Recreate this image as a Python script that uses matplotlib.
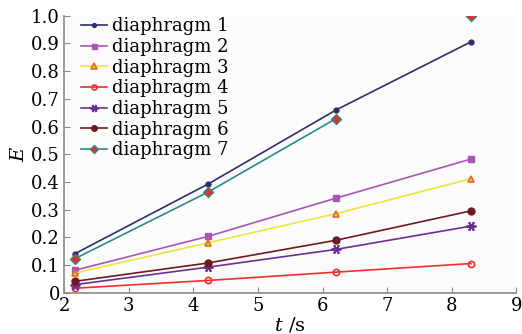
import matplotlib.pyplot as plt

# measurement times (s) and efficiency per diaphragm
t = [2.17, 4.23, 6.21, 8.30]
labels = ["diaphragm 1", "diaphragm 2", "diaphragm 3", "diaphragm 4",
          "diaphragm 5", "diaphragm 6", "diaphragm 7"]
e1 = [0.142, 0.393, 0.660, 0.906]
e2 = [0.082, 0.204, 0.342, 0.483]
e3 = [0.072, 0.181, 0.286, 0.412]
e4 = [0.017, 0.045, 0.075, 0.106]
e5 = [0.030, 0.093, 0.157, 0.241]
e6 = [0.042, 0.108, 0.190, 0.296]
e7 = [0.124, 0.364, 0.629, 1.000]

plt.rcParams["font.family"] = "DejaVu Serif"
plt.rcParams["mathtext.fontset"] = "dejavuserif"

fig = plt.figure(figsize=(5.22, 3.34), dpi=100)
ax = fig.add_axes([0.123, 0.123, 0.866, 0.83])
ax.set_facecolor("#fbfbfb")

ax.plot(t, e1, color="#2e2f6b", marker="o", ms=3.5, lw=1.2, label=labels[0])
ax.plot(t, e2, color="#a756b4", marker="s", ms=4.5, lw=1.2, label=labels[1])
ax.plot(t, e3, color="#e9e63c", marker="^", ms=5, mfc="#f0d040", mec="#e06a20",
        mew=1.2, lw=1.2, label=labels[2])
ax.plot(t, e4, color="#f0302c", marker="o", ms=4.5, mfc="none", mec="#f0302c",
        mew=1.2, lw=1.2, label=labels[3])
ax.plot(t, e5, color="#6d2f92", marker=(6, 2, 90), ms=7, mew=1.4, lw=1.2,
        label=labels[4])
ax.plot(t, e6, color="#6e1a1e", marker="o", ms=5, lw=1.2, label=labels[5])
# last point of diaphragm 7 is not joined to the line
ax.plot(t[:3], e7[:3], color="#2a8a88", marker="D", ms=5, mfc="#e8302a",
        mec="#2a8a88", lw=1.2, label=labels[6])
ax.plot(t[3:], e7[3:], ls="none", marker="D", ms=5, mfc="#e8302a", mec="#2a8a88")

ax.set_xlim(2, 9)
ax.set_ylim(0, 1.0)
ax.set_xticks(range(2, 10))
ax.set_yticks([i / 10 for i in range(11)])
ax.set_yticklabels(["0"] + [f"{i / 10:.1f}" for i in range(1, 11)])

for s in ("top", "right"):
    ax.spines[s].set_visible(False)
for s in ("left", "bottom"):
    ax.spines[s].set_color("#8a8a8a")
    ax.spines[s].set_linewidth(1.2)
ax.tick_params(direction="in", length=4, color="#8a8a8a", labelsize=13, pad=3)

ax.set_xlabel("$t$ /s", fontsize=14, labelpad=0)
ax.set_ylabel("$E$", fontsize=14, labelpad=2)

ax.legend(loc="upper left", bbox_to_anchor=(0.01, 1.04), frameon=False,
          fontsize=13, handlelength=1.4, handletextpad=0.3, labelspacing=0.15,
          borderaxespad=0.3, markerscale=0.8)

fig.savefig("out.png", dpi=100)
